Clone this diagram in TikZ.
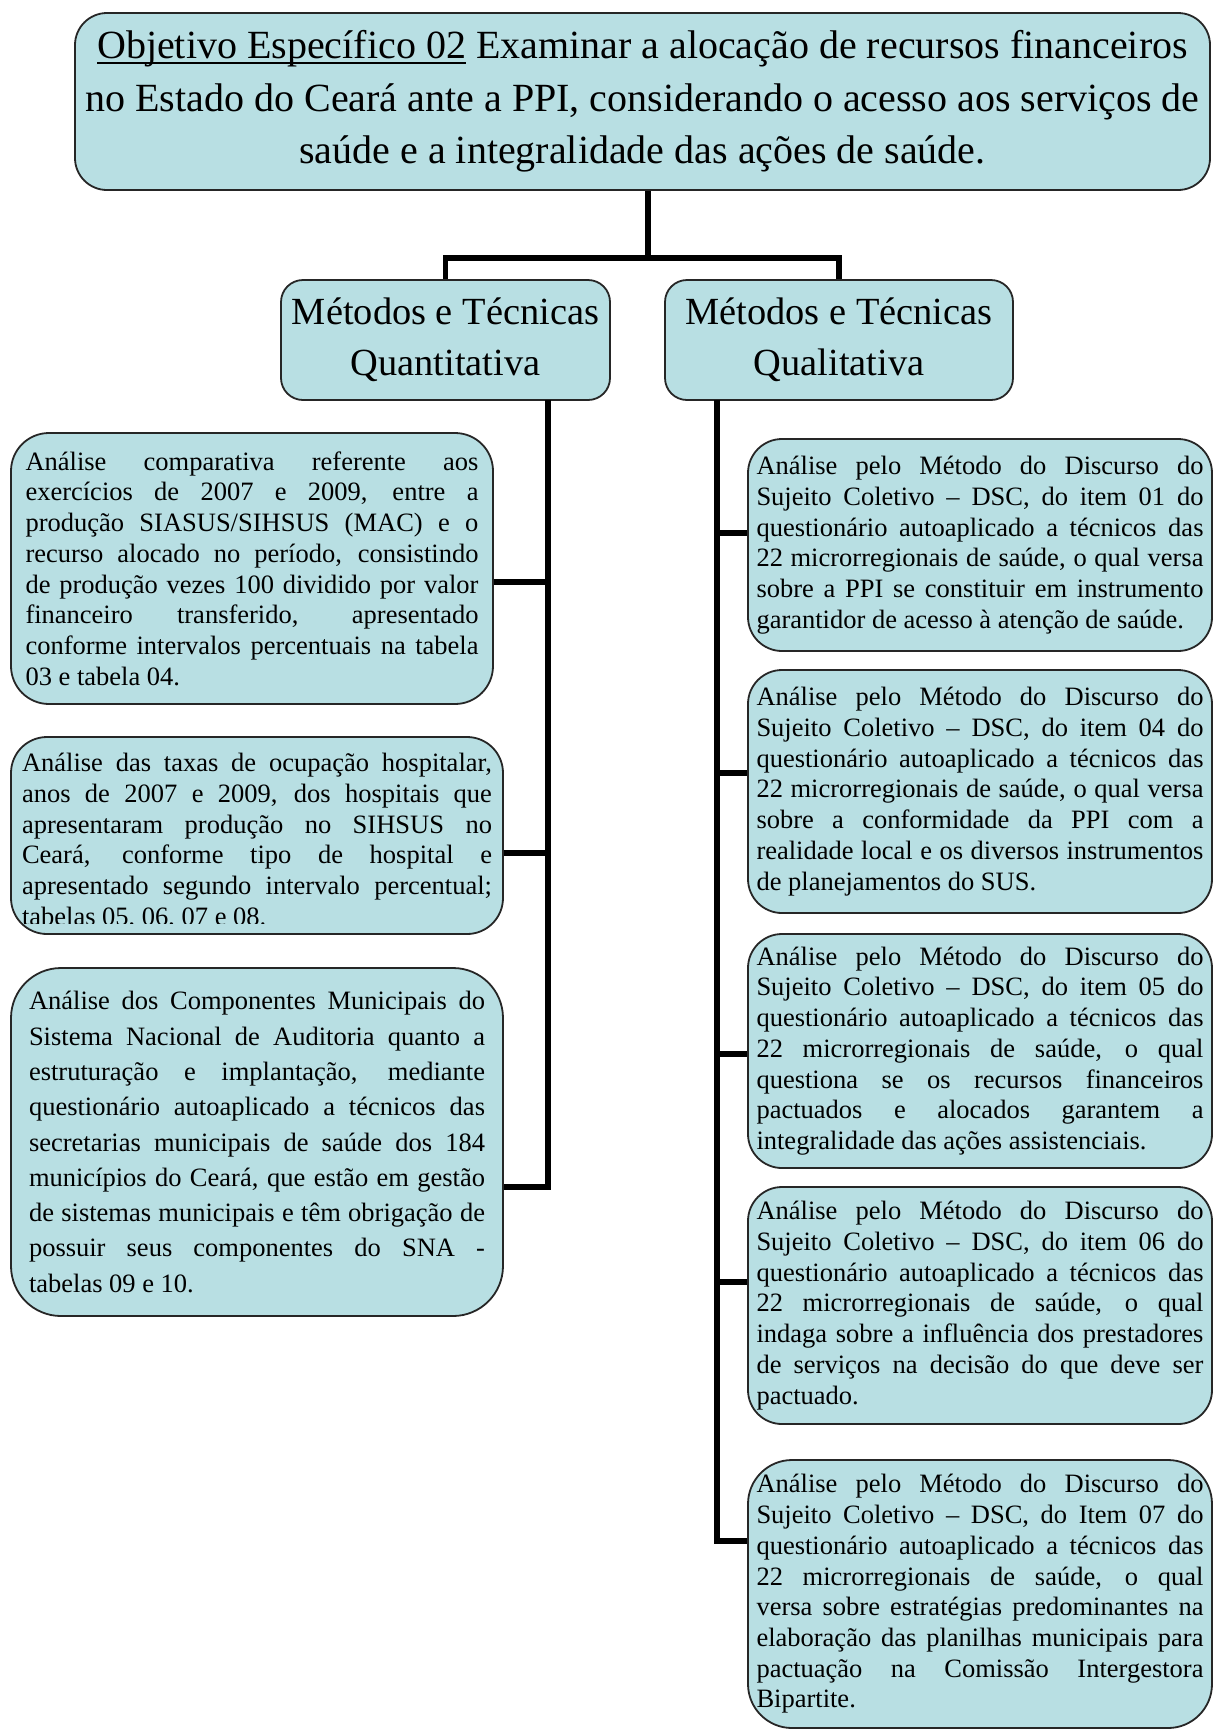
\documentclass[tikz,border=0pt]{standalone}
\usepackage{fontspec}
\setmainfont{Liberation Serif}
\definecolor{fundo}{RGB}{184,223,227}
\newcommand\sublinhado[1]{\leavevmode\setbox0\hbox{#1}\rlap{\vrule height -1.6pt depth 2.6pt width \wd0}\box0\relax}
\hyphenpenalty=10000
\exhyphenpenalty=10000
\tolerance=9999

\begin{document}
\begin{tikzpicture}[x=0.5pt,y=-0.5pt,
	caixa/.style={draw=black!85, line width=0.9pt, fill=fundo, rounded corners=17pt, inner sep=0pt},
	texto/.style={font=\fontsize{13.25}{15.35}\selectfont, align=justify, inner sep=0pt},
	liga/.style={line width=2.6pt}]
	\useasboundingbox (0,0) rectangle (1213,1730);

	\node[caixa, minimum width=567.5pt, minimum height=88.5pt, rounded corners=16pt, align=center,
		font=\fontsize{20}{26.2}\selectfont] (objetivo) at (642.5,101.5)
		{\sublinhado{Objetivo Específico 02} Examinar a alocação de recursos financeiros\\
		no Estado do Ceará ante a PPI, considerando o acesso aos serviços de\\
		saúde e a integralidade das ações de saúde.};

	\node[caixa, minimum width=164.5pt, minimum height=60pt, rounded corners=11pt, align=center,
		font=\fontsize{19.2}{25.4}\selectfont] (quan) at (445.5,340) {Métodos e Técnicas\\Quantitativa};
	\node[caixa, minimum width=174pt, minimum height=60pt, rounded corners=11pt, align=center,
		font=\fontsize{19.2}{25.4}\selectfont] (qual) at (839,340) {Métodos e Técnicas\\Qualitativa};

	% lado quantitativo
	\node[caixa, texto, text width=226.5pt, minimum width=241pt, minimum height=135.5pt, rounded corners=19pt] (q1) at (252,568.5)
		{Análise comparativa referente aos\linebreak
		exercícios de 2007 e 2009, entre a\linebreak
		produção SIASUS/SIHSUS (MAC) e o\linebreak
		recurso alocado no período, consistindo\linebreak
		de produção vezes 100 dividido por valor\linebreak
		financeiro transferido, apresentado\linebreak
		conforme intervalos percentuais na tabela\linebreak
		03 e tabela 04.};

	\node[caixa, minimum width=246pt, minimum height=98.5pt, rounded corners=18pt] (q2) at (257,835.5) {};
	\begin{scope}
		\clip (11,737) rectangle (503,923);
		\node[texto, text width=235pt, anchor=north] (q2txt) at (257,753)
			{Análise das taxas de ocupação hospitalar,\linebreak
			anos de 2007 e 2009, dos hospitais que\linebreak
			apresentaram produção no SIHSUS no\linebreak
			Ceará, conforme tipo de hospital e\linebreak
			apresentado segundo intervalo percentual;\linebreak
			tabelas 05, 06, 07 e 08.};
	\end{scope}

	\node[caixa, texto, text width=228pt, minimum width=246pt, minimum height=174pt, rounded corners=25pt,
		font=\fontsize{13.25}{17.65}\selectfont] (q3) at (257,1142)
		{Análise dos Componentes Municipais do\linebreak
		Sistema Nacional de Auditoria quanto a\linebreak
		estruturação e implantação, mediante\linebreak
		questionário autoaplicado a técnicos das\linebreak
		secretarias municipais de saúde dos 184\linebreak
		municípios do Ceará, que estão em gestão\linebreak
		de sistemas municipais e têm obrigação de\linebreak
		possuir seus componentes do SNA -\linebreak
		tabelas 09 e 10.};

	% lado qualitativo
	\node[caixa, texto, text width=223.5pt, minimum width=232pt, minimum height=106pt] (r1) at (980,545)
		{Análise pelo Método do Discurso do\linebreak
		Sujeito Coletivo – DSC, do item 01 do\linebreak
		questionário autoaplicado a técnicos das\linebreak
		22 microrregionais de saúde, o qual versa\linebreak
		sobre a PPI se constituir em instrumento\linebreak
		garantidor de acesso à atenção de saúde.};
	\node[caixa, texto, text width=223.5pt, minimum width=232pt, minimum height=121.5pt] (r2) at (980,791.5)
		{Análise pelo Método do Discurso do\linebreak
		Sujeito Coletivo – DSC, do item 04 do\linebreak
		questionário autoaplicado a técnicos das\linebreak
		22 microrregionais de saúde, o qual versa\linebreak
		sobre a conformidade da PPI com a\linebreak
		realidade local e os diversos instrumentos\linebreak
		de planejamentos do SUS.};
	\node[caixa, texto, text width=223.5pt, minimum width=232pt, minimum height=117pt] (r3) at (980,1051)
		{Análise pelo Método do Discurso do\linebreak
		Sujeito Coletivo – DSC, do item 05 do\linebreak
		questionário autoaplicado a técnicos das\linebreak
		22 microrregionais de saúde, o qual\linebreak
		questiona se os recursos financeiros\linebreak
		pactuados e alocados garantem a\linebreak
		integralidade das ações assistenciais.};
	\node[caixa, texto, text width=223.5pt, minimum width=232pt, minimum height=118.5pt] (r4) at (980,1305.5)
		{Análise pelo Método do Discurso do\linebreak
		Sujeito Coletivo – DSC, do item 06 do\linebreak
		questionário autoaplicado a técnicos das\linebreak
		22 microrregionais de saúde, o qual\linebreak
		indaga sobre a influência dos prestadores\linebreak
		de serviços na decisão do que deve ser\linebreak
		pactuado.};
	\node[caixa, texto, text width=223.5pt, minimum width=232pt, minimum height=134pt, rounded corners=22pt] (r5) at (980,1594)
		{Análise pelo Método do Discurso do\linebreak
		Sujeito Coletivo – DSC, do Item 07 do\linebreak
		questionário autoaplicado a técnicos das\linebreak
		22 microrregionais de saúde, o qual\linebreak
		versa sobre estratégias predominantes na\linebreak
		elaboração das planilhas municipais para\linebreak
		pactuação na Comissão Intergestora\linebreak
		Bipartite.};

	% ligacoes
	\coordinate (juncao) at (648,258);
	\coordinate (lesq) at (548,400);
	\coordinate (ldir) at (717,400);
	\draw[liga] (objetivo.south -| juncao) -- (juncao);
	\draw[liga] (quan.north) |- (juncao) -| (qual.north);

	\draw[liga] (lesq) |- ([yshift=-22.5pt]q3.east);
	\foreach \n/\s in {q1/-6.75pt, q2/-8.75pt}{
		\path ([yshift=\s]\n.east) coordinate (aux);
		\draw[liga] (aux) -- (aux -| lesq);
	}
	\draw[liga] (ldir) |- ([yshift=26.5pt]r5.west);
	\foreach \n/\s in {r1/6pt, r2/9.25pt, r3/-1.5pt, r4/11.75pt}{
		\path ([yshift=\s]\n.west) coordinate (aux);
		\draw[liga] (aux) -- (aux -| ldir);
	}
\end{tikzpicture}
\end{document}
